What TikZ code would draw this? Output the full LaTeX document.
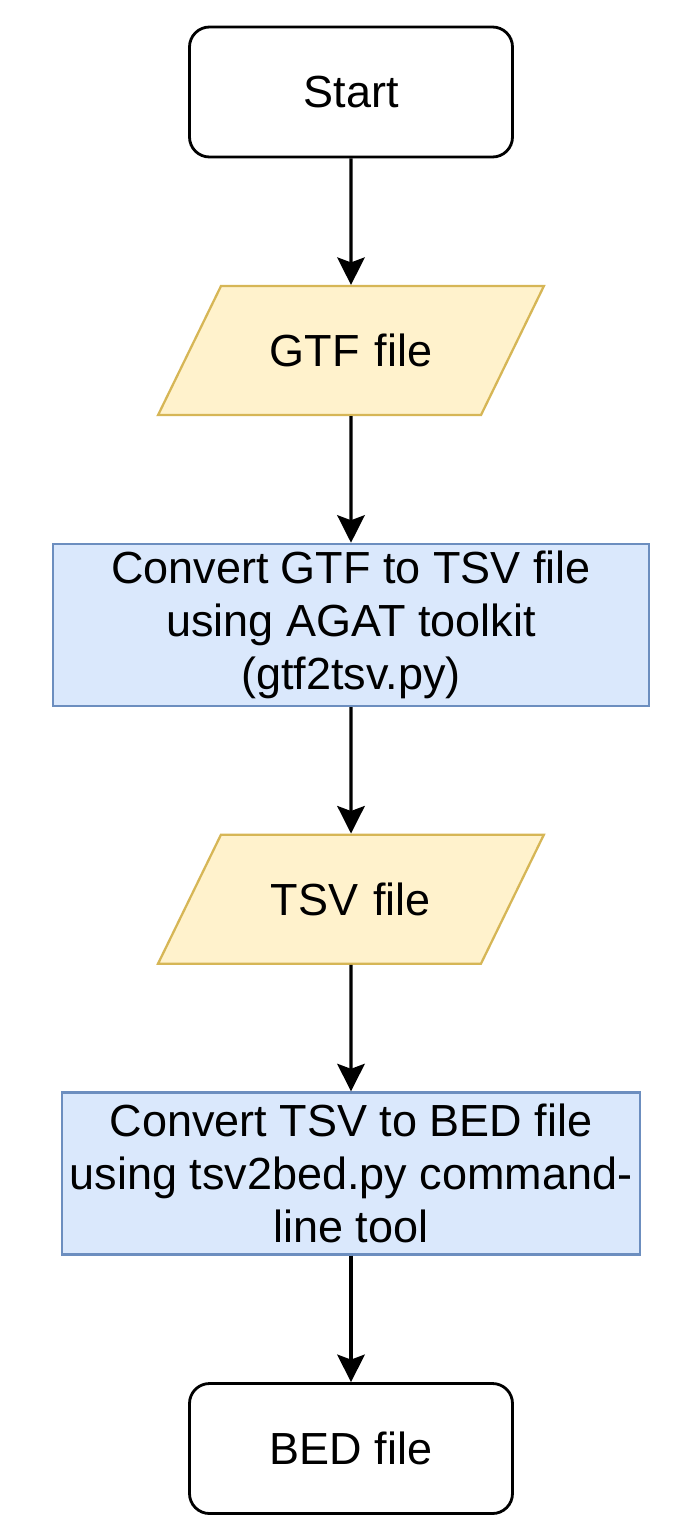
\documentclass[tikz,border=0pt]{standalone}
\usepackage{fontspec}
\setmainfont{Liberation Sans}
\usetikzlibrary{positioning,shapes.geometric,arrows.meta}
\definecolor{ioFill}{HTML}{FFF2CC}
\definecolor{ioLine}{HTML}{D6B656}
\definecolor{procFill}{HTML}{DAE8FC}
\definecolor{procLine}{HTML}{6C8EBF}
\begin{document}
\begin{tikzpicture}[
  node distance=2.53cm,
  font=\fontsize{25.6pt}{30pt}\selectfont,
  term/.style={draw, line width=1.6pt, rounded corners=0.4cm, fill=white,
               minimum width=6.46cm, minimum height=2.6cm, inner sep=0pt},
  io/.style={draw=ioLine, line width=1.3pt, fill=ioFill, trapezium,
             trapezium left angle=64, trapezium right angle=116,
             text width=5.2cm, align=center, text height=0.8cm,
             text depth=0.16cm, inner xsep=0pt, inner ysep=0.81cm},
  proc/.style={draw=procLine, line width=1.3pt, fill=procFill, align=center,
               minimum height=3.24cm, inner sep=0pt},
  arrow/.style={-{Stealth[length=0.55cm, width=0.55cm, inset=0.1cm]},
                line width=1.8pt},
]
\useasboundingbox (0,0) rectangle (13.9,-30.7);
% Start and GTF input
\node[term] (start) at (7.02,-1.84) {Start};
\node[io, below=of start] (gtf) {GTF file};
% First conversion
\node[proc, below=of gtf, minimum width=11.92cm] (gtf2tsv)
  {Convert GTF to TSV file\\using AGAT toolkit\\(gtf2tsv.py)};
\node[io, below=of gtf2tsv] (tsv) {TSV file};
% Second conversion
\node[proc, below=of tsv, minimum width=11.56cm] (tsv2bed)
  {Convert TSV to BED file\\using tsv2bed.py command-\\line tool};
\node[term, below=of tsv2bed] (bed) {BED file};

% Links
\draw[arrow] (start) -- (gtf);
\draw[arrow] (gtf) -- (gtf2tsv);
\draw[arrow] (gtf2tsv) -- (tsv);
\draw[arrow] (tsv) -- (tsv2bed);
\draw[arrow] (tsv2bed) -- (bed);
\end{tikzpicture}
\end{document}
